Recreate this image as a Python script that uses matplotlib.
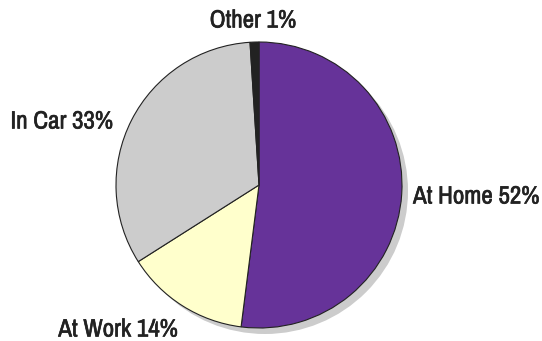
import matplotlib
matplotlib.use("Agg")
import matplotlib.pyplot as plt
import matplotlib.patheffects as pe
from matplotlib.patches import Circle

plt.rcParams['font.family'] = ['Archivo Narrow', 'DejaVu Sans']

labels = ['At Home', 'At Work', 'In Car', 'Other']
shares = [52, 14, 33, 1]
colors = ['#663399', '#ffffcc', '#cccccc', '#222222']

# where each label sits (pixels from bottom-left) and how it is aligned
label_xy = [(413, 145), (178, 12), (113, 220), (253, 321)]
label_ha = ['left', 'right', 'right', 'center']

fig = plt.figure(figsize=(5.42, 3.41), dpi=100)
ax = fig.add_axes([0, 0, 1, 1])

cx, cy, r = 259, 156, 143

# flat drop shadow behind the pie
ax.add_patch(Circle((cx + 6, cy - 6), r, facecolor='#cccccc', edgecolor='none', zorder=0))

wedges, _ = ax.pie(shares, colors=colors, startangle=90, counterclock=False,
                   center=(cx, cy), radius=r, frame=True,
                   wedgeprops=dict(edgecolor='#222222', linewidth=0.8))
ax.set_xlim(0, 542)
ax.set_ylim(0, 341)
ax.set_aspect('equal')
ax.axis('off')

bold = [pe.withStroke(linewidth=0.45, foreground='#222222')]
for lab, v, (x, y), ha in zip(labels, shares, label_xy, label_ha):
    ax.text(x, y, f'{lab} {v}%', ha=ha, va='center', fontsize=18,
            color='#222222', path_effects=bold)

fig.savefig('out.png', dpi=100)
